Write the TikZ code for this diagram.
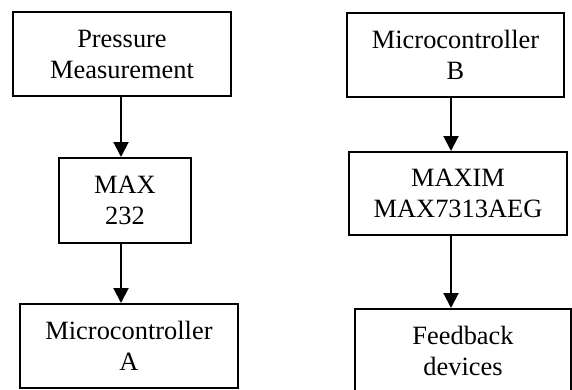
\documentclass[tikz,border=0pt]{standalone}
\usepackage{fontspec}
\setmainfont{Liberation Serif}
\usetikzlibrary{arrows.meta}
\begin{document}
\begin{tikzpicture}[x=1pt,y=-1pt,
  blk/.style={draw=black,line width=2pt,inner sep=0pt,align=center,
    font=\fontsize{26.4}{31}\selectfont},
  conn/.style={line width=2pt,-{Triangle[length=15pt,width=15pt]}}]
\useasboundingbox[fill=white] (0,0) rectangle (572,389);
\begin{scope}
\clip (0,0) rectangle (572,389);
\node[blk,minimum width=218pt,minimum height=84pt] (P) at (122,54) {Pressure\\Measurement};
\node[blk,minimum width=132pt,minimum height=85pt] (MAX) at (125,200.5) {MAX\\232};
\node[blk,minimum width=218pt,minimum height=84pt] (MA) at (129,346) {Microcontroller\\A};
\node[blk,minimum width=217pt,minimum height=84pt] (MB) at (455.5,55) {Microcontroller\\B};
\node[blk,minimum width=218pt,minimum height=83pt] (MAXIM) at (458,193.5) {MAXIM\\MAX7313AEG};
\node[blk,minimum width=216pt,minimum height=84pt] (FB) at (463,351) {Feedback\\devices};
\coordinate (la) at (121,0);
\coordinate (ra) at (451,0);
\draw[conn] (P.south -| la) -- (MAX.north -| la);
\draw[conn] (MAX.south -| la) -- (MA.north -| la);
\draw[conn] (MB.south -| ra) -- (MAXIM.north -| ra);
\draw[conn] (MAXIM.south -| ra) -- (FB.north -| ra);
\end{scope}
\end{tikzpicture}
\end{document}
